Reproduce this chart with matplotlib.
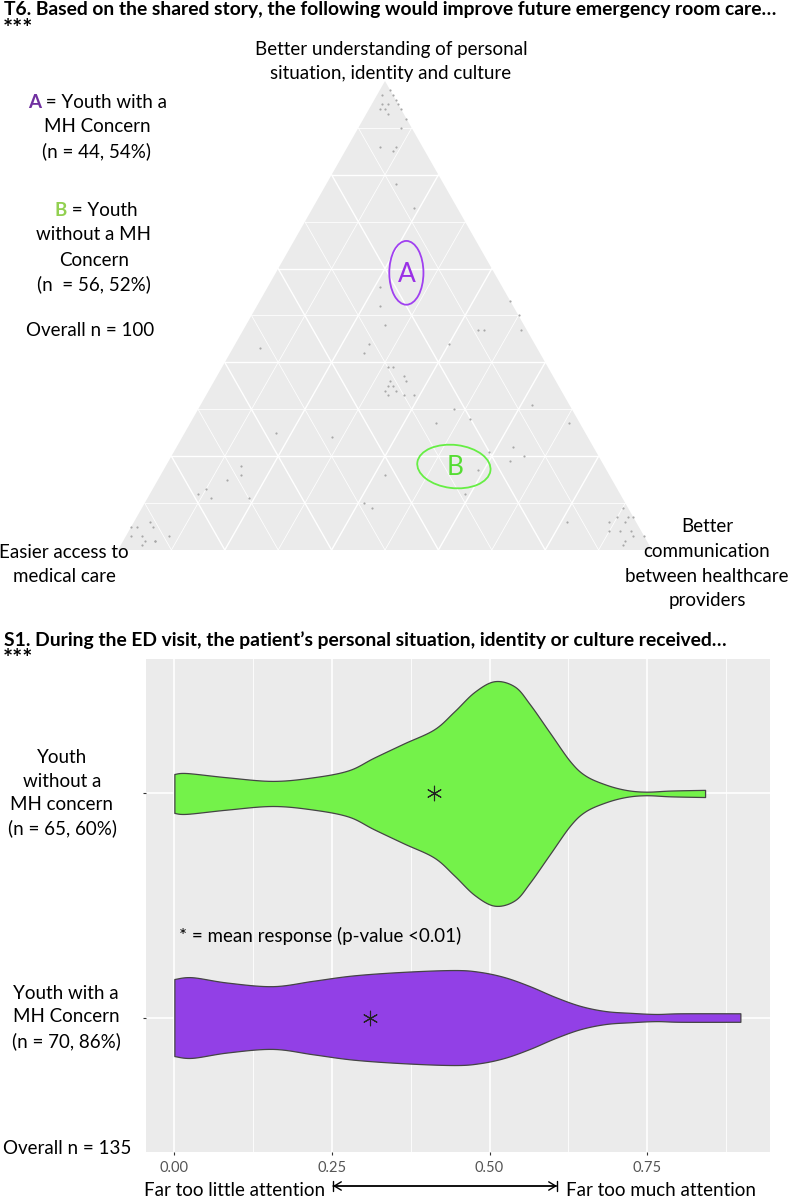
import numpy as np
import matplotlib
matplotlib.use("Agg")
import matplotlib.pyplot as plt
import matplotlib.transforms as mtransforms
from matplotlib.patches import Ellipse, Polygon

plt.rcParams['font.family'] = ['Lato', 'DejaVu Sans']

# ---- ternary data (shares of each answer) ----
top_share = [0.97, 0.98, 0.97, 0.96, 0.95, 0.95, 0.95, 0.94, 0.94, 0.93, 0.94, 0.92, 0.90, 0.86, 0.86, 0.85,
             0.78, 0.73, 0.56, 0.52, 0.53, 0.50, 0.47, 0.47, 0.47, 0.48, 0.44, 0.42, 0.44, 0.43,
             0.39, 0.39, 0.37, 0.36, 0.36, 0.35, 0.35, 0.34, 0.34, 0.33, 0.33, 0.33, 0.31, 0.30, 0.28, 0.27,
             0.27, 0.25, 0.24, 0.21, 0.22, 0.20, 0.19, 0.17, 0.12, 0.16, 0.18, 0.16, 0.15, 0.13, 0.12, 0.11,
             0.11, 0.10, 0.09, 0.06,
             0.09, 0.07, 0.07, 0.07, 0.06, 0.06, 0.04, 0.04, 0.04, 0.03, 0.03, 0.02, 0.01,
             0.05, 0.05, 0.06, 0.05, 0.03, 0.03, 0.02, 0.02, 0.02, 0.03, 0.01]
right_share = [0.01, 0.02, 0.03, 0.04, 0.05, 0.03, 0.02, 0.02, 0.03, 0.04, 0.06, 0.08, 0.08, 0.06, 0.09, 0.09,
               0.13, 0.19, 0.21, 0.23, 0.47, 0.50, 0.44, 0.45, 0.52, 0.26, 0.25, 0.25, 0.40, 0.05,
               0.31, 0.32, 0.35, 0.36, 0.33, 0.33, 0.34, 0.33, 0.35, 0.39, 0.37, 0.34, 0.62, 0.48, 0.52, 0.46,
               0.71, 0.17, 0.28, 0.59, 0.63, 0.66, 0.64, 0.59, 0.59, 0.42, 0.14, 0.15, 0.13, 0.10, 0.09, 0.12,
               0.19, 0.41, 0.43, 0.81,
               0.90, 0.90, 0.92, 0.93, 0.89, 0.92, 0.90, 0.92, 0.94, 0.95, 0.97, 0.94, 0.94,
               0.00, 0.01, 0.03, 0.04, 0.01, 0.03, 0.04, 0.06, 0.06, 0.08, 0.04]

# ---- violin profiles (response value, half width) ----
without_x = [0.0, 0.02, 0.084, 0.156, 0.22, 0.276, 0.316, 0.364, 0.412, 0.444, 0.476, 0.508, 0.54,
             0.564, 0.596, 0.628, 0.652, 0.684, 0.716, 0.748, 0.788, 0.842]
without_w = [0.087, 0.091, 0.072, 0.056, 0.072, 0.103, 0.159, 0.223, 0.286, 0.366, 0.453, 0.501, 0.477,
             0.398, 0.270, 0.143, 0.080, 0.040, 0.016, 0.008, 0.013, 0.016]
with_x = [0.0, 0.028, 0.084, 0.156, 0.22, 0.284, 0.364, 0.444, 0.484, 0.524, 0.564, 0.604, 0.644,
          0.684, 0.724, 0.764, 0.804, 0.898]
with_w = [0.172, 0.180, 0.156, 0.140, 0.164, 0.188, 0.204, 0.212, 0.204, 0.180, 0.140, 0.092, 0.052,
          0.029, 0.021, 0.016, 0.019, 0.019]
means = [0.310, 0.412]  # with, without
x_ticks = [0.0, 0.25, 0.5, 0.75]
x_ticklabels = ['0.00', '0.25', '0.50', '0.75']

W, H = 792, 1200
FS = 13.5
fig = plt.figure(figsize=(W / 100, H / 100), dpi=100)


def fx(px):
    return px / W


def fy(py):
    return 1 - py / H


def smooth(xs, ys, n=10):
    # catmull-rom curve through the read outline points, just for drawing
    px = np.concatenate([[xs[0]], xs, [xs[-1]]])
    py = np.concatenate([[ys[0]], ys, [ys[-1]]])
    outx, outy = [], []
    for i in range(1, len(px) - 2):
        for u in np.linspace(0, 1, n, endpoint=False):
            u2, u3 = u * u, u * u * u
            a = -0.5 * u3 + u2 - 0.5 * u
            b = 1.5 * u3 - 2.5 * u2 + 1
            c = -1.5 * u3 + 2 * u2 + 0.5 * u
            d = 0.5 * u3 - 0.5 * u2
            outx.append(a * px[i - 1] + b * px[i] + c * px[i + 1] + d * px[i + 2])
            outy.append(a * py[i - 1] + b * py[i] + c * py[i + 1] + d * py[i + 2])
    outx.append(xs[-1])
    outy.append(ys[-1])
    return np.array(outx), np.clip(np.array(outy), 0.004, None)


# ================= ternary =================
tax = fig.add_axes([fx(118), fy(550), fx(534), 469 / H])
tax.set_xlim(0, 1)
tax.set_ylim(0, 1)
tax.axis('off')
tax.add_patch(Polygon([[0, 0], [1, 0], [0.5, 1]], closed=True, facecolor='#ebebeb', edgecolor='none'))

for k in range(1, 10):
    v = k / 10
    lw = 1.0 if k % 2 == 0 else 0.55
    tax.plot([v / 2, 1 - v / 2], [v, v], color='white', lw=lw)
    tax.plot([v, v / 2 + 0.5], [0, 1 - v], color='white', lw=lw)
    tax.plot([1 - v, 0.5 - v / 2], [0, 1 - v], color='white', lw=lw)

t = np.array(top_share)
r = np.array(right_share)
tax.scatter(r + t / 2, t, s=2.5, color='#a8a8a8', linewidths=0, zorder=3)

tax.add_patch(Ellipse((0.540, 0.591), 0.064, 0.136, fill=False, edgecolor='#a040f0', lw=1.3, zorder=4))
tax.text(0.540, 0.588, 'A', color='#9a30e6', fontsize=19, ha='center', va='center', zorder=5)
tax.add_patch(Ellipse((0.629, 0.178), 0.138, 0.092, angle=-8, fill=False, edgecolor='#66ee44', lw=1.3, zorder=4))
tax.text(0.632, 0.176, 'B', color='#55dd33', fontsize=19, ha='center', va='center', zorder=5)

fig.text(fx(4), fy(10), 'T6. Based on the shared story, the following would improve future emergency room care…',
         fontsize=13.9, fontweight='bold', ha='left', va='center')
fig.text(fx(3), fy(30), '***', fontsize=17, fontweight='bold', ha='left', va='center')

fig.text(fx(391), fy(50), 'Better understanding of personal', fontsize=FS, ha='center', va='center')
fig.text(fx(391), fy(73), 'situation, identity and culture', fontsize=FS, ha='center', va='center')
fig.text(fx(64), fy(552), 'Easier access to', fontsize=FS, ha='center', va='center')
fig.text(fx(64), fy(577), 'medical care', fontsize=FS, ha='center', va='center')
for i, line in enumerate(['Better', 'communication', 'between healthcare', 'providers']):
    fig.text(fx(707), fy(527 + 24.5 * i), line, fontsize=FS, ha='center', va='center')

fig.text(fx(41), fy(103), 'A', color='#7030a0', fontsize=FS, fontweight='bold', ha='right', va='center')
fig.text(fx(41), fy(103), ' = Youth with a', fontsize=FS, ha='left', va='center')
fig.text(fx(97), fy(127), 'MH Concern', fontsize=FS, ha='center', va='center')
fig.text(fx(97), fy(151), '(n = 44, 54%)', fontsize=FS, ha='center', va='center')
fig.text(fx(67), fy(211), 'B', color='#92d050', fontsize=FS, fontweight='bold', ha='right', va='center')
fig.text(fx(67), fy(211), ' = Youth', fontsize=FS, ha='left', va='center')
fig.text(fx(94), fy(235), 'without a MH', fontsize=FS, ha='center', va='center')
fig.text(fx(94), fy(260), 'Concern', fontsize=FS, ha='center', va='center')
fig.text(fx(94), fy(284), '(n  = 56, 52%)', fontsize=FS, ha='center', va='center')
fig.text(fx(90), fy(330), 'Overall n = 100', fontsize=FS, ha='center', va='center')

# ================= violin =================
ax = fig.add_axes([fx(146), fy(1152), fx(624), 493 / H])
ax.set_facecolor('#ebebeb')
for s in ax.spines.values():
    s.set_visible(False)
ax.set_xlim(-0.045, 0.945)
ax.set_ylim(0.4, 2.6)
for xm in [0.125, 0.375, 0.625, 0.875]:
    ax.axvline(xm, color='white', lw=0.6, zorder=0)
for xm in x_ticks:
    ax.axvline(xm, color='white', lw=1.2, zorder=0)
for ym in [1, 2]:
    ax.axhline(ym, color='white', lw=1.2, zorder=0)

wx, ww = smooth(with_x, with_w)
ax.fill_between(wx, 1 - ww, 1 + ww, facecolor='#9240e6', edgecolor='#444444', lw=0.9, zorder=2)
gx, gw = smooth(without_x, without_w)
ax.fill_between(gx, 2 - gw, 2 + gw, facecolor='#74f24a', edgecolor='#444444', lw=0.9, zorder=2)
ax.scatter(means, [1, 2], marker=(6, 2, 0), s=110, color='#222222', linewidths=0.8, zorder=3)

ax.set_xticks(x_ticks)
ax.set_xticklabels(x_ticklabels, color='#555555', fontsize=10.5)
ax.set_yticks([1, 2])
ax.set_yticklabels([])
ax.tick_params(axis='both', length=2.5, color='#333333', width=0.8, pad=4)

ax.text(0.008, 1.366, '* = mean response (p-value <0.01)', fontsize=FS, ha='left', va='center')

blend = mtransforms.blended_transform_factory(fig.transFigure, ax.transData)
ax.text(fx(62), 2, 'Youth\nwithout a\nMH concern\n(n = 65, 60%)', transform=blend, fontsize=FS,
        ha='center', va='center', multialignment='center', linespacing=1.45)
ax.text(fx(66), 1, 'Youth with a\nMH Concern\n(n = 70, 86%)', transform=blend, fontsize=FS,
        ha='center', va='center', multialignment='center', linespacing=1.45)
fig.text(fx(67), fy(1149), 'Overall n = 135', fontsize=FS, ha='center', va='center')

fig.text(fx(4), fy(640), 'S1. During the ED visit, the patient\u2019s personal situation, identity or culture received…',
         fontsize=13.9, fontweight='bold', ha='left', va='center')
fig.text(fx(3), fy(660), '***', fontsize=17, fontweight='bold', ha='left', va='center')

fig.text(fx(325), fy(1190), 'Far too little attention', fontsize=FS, ha='right', va='center')
fig.text(fx(566), fy(1190), 'Far too much attention', fontsize=FS, ha='left', va='center')
ar = fig.add_axes([0, 0, 1, 1], facecolor='none')
ar.axis('off')
ar.set_xlim(0, W)
ar.set_ylim(H, 0)
ar.annotate('', xy=(333, 1186), xytext=(557, 1186),
            arrowprops=dict(arrowstyle='|-|, widthA=0.35, widthB=0.35', lw=1.0, color='black',
                            shrinkA=0, shrinkB=0, mutation_scale=10))
ar.annotate('', xy=(333, 1186), xytext=(557, 1186),
            arrowprops=dict(arrowstyle='<->, head_length=0.5, head_width=0.3', lw=1.0, color='black',
                            shrinkA=0, shrinkB=0, mutation_scale=10))

fig.savefig('out.png', dpi=100)
